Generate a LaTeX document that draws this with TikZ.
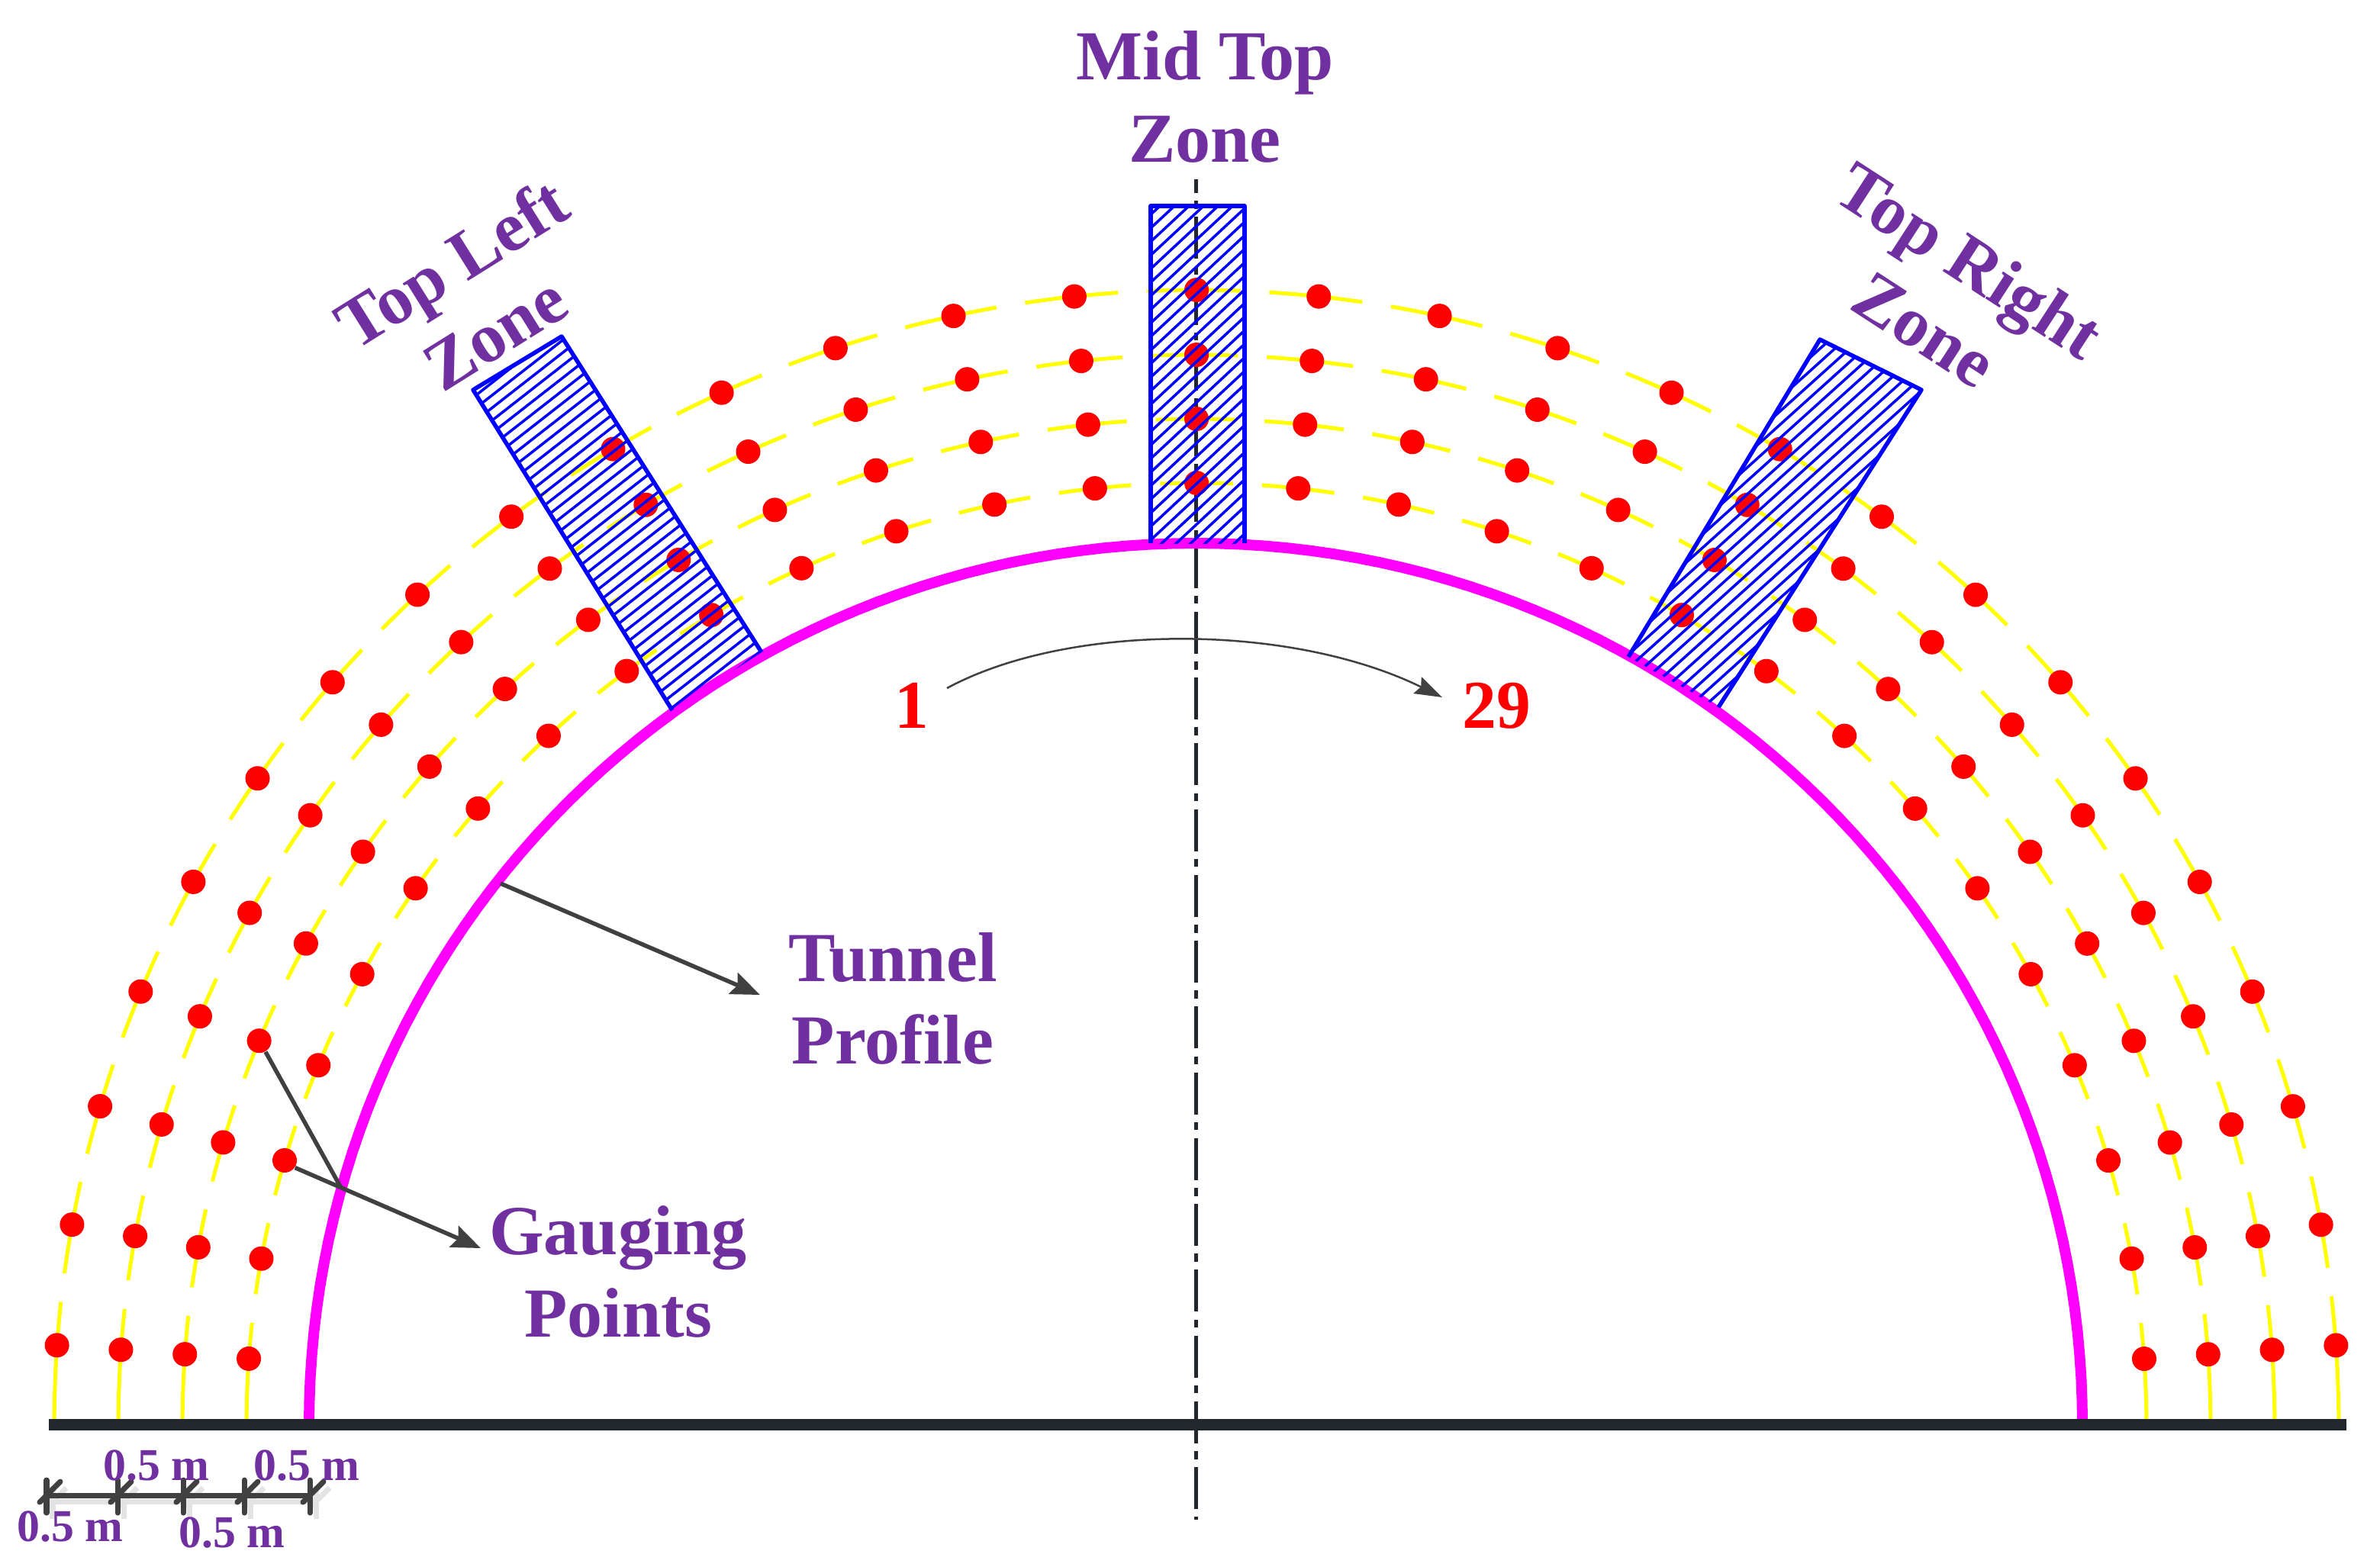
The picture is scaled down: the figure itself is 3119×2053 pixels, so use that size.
\documentclass[tikz,border=0pt]{standalone}
\usepackage{fontspec}
\setmainfont{Liberation Serif}
\usetikzlibrary{arrows.meta}
\definecolor{zonepurple}{HTML}{7030A0}
\definecolor{arrowgrey}{HTML}{404040}
\definecolor{baseblack}{HTML}{22272E}
\definecolor{ringyellow}{HTML}{FFFF00}
\definecolor{tunnelpink}{HTML}{FF00FF}
\definecolor{dotred}{HTML}{FF0000}
\definecolor{zoneblue}{HTML}{0000FF}
\tikzset{
  x=0.01cm,y=-0.01cm,
  gaugedot/.style={circle,fill=dotred,draw=none,inner sep=0pt,minimum size=0.32cm},
  ringline/.style={ringyellow,line width=0.05cm},
  tunnelline/.style={tunnelpink,line width=0.14cm,line join=round},
  zonebox/.style={zoneblue,line width=0.055cm,line join=round},
  hatchline/.style={zoneblue,line width=0.035cm},
  pointer/.style={arrowgrey,line width=0.055cm,-{Stealth[length=0.38cm,width=0.30cm,inset=0.06cm]}},
  plainpointer/.style={arrowgrey,line width=0.055cm},
  zonelabel/.style={text=zonepurple,font=\fontsize{26.2}{30.5}\selectfont\bfseries,align=center,inner sep=0pt},
  dimlabel/.style={text=zonepurple,font=\fontsize{17}{20}\selectfont\bfseries,inner sep=0pt},
  numlabel/.style={text=dotred,font=\fontsize{25.5}{30}\selectfont\bfseries,inner sep=0pt},
  dimbar/.style={arrowgrey,line width=0.07cm,line cap=round},
  dimshadow/.style={black!11,line width=0.07cm},
}
\begin{document}
\begin{tikzpicture}
\useasboundingbox (0,0) rectangle (3119,2053);
% rings with gaps
\foreach \rx/\ry/\k in {1245/1234/1,1329/1318/2,1413/1402/3,1497/1487/4}{
  \pgfmathsetmacro\gapw{38/\rx*57.3}
  \foreach \i in {0,...,27}{
    \pgfmathsetmacro\ta{4+\i*6.143}
    \pgfmathsetmacro\tb{\ta+2.2}
    \pgfmathsetmacro\tc{\tb+\gapw}
    \pgfmathsetmacro\td{\ta+6.143}
    \draw[ringline] plot[domain=\ta:\tb,samples=4] ({1568-\rx*cos(\x)},{1867-\ry*sin(\x)});
    \draw[ringline] plot[domain=\tc:\td,samples=4] ({1568-\rx*cos(\x)},{1867-\ry*sin(\x)});
  }
  \draw[ringline] plot[domain=0:4,samples=4] ({1568-\rx*cos(\x)},{1867-\ry*sin(\x)});
  \draw[ringline] plot[domain=176:180,samples=4] ({1568-\rx*cos(\x)},{1867-\ry*sin(\x)});
}
% centre line
\coordinate (ctop) at (1567.5,235);
\coordinate (cbot) at (1567.5,1992);
\draw[baseblack,line width=0.05cm,dash pattern=on 0.55cm off 0.104cm on 0.104cm off 0.104cm,dash phase=0.37cm] (ctop) -- (cbot);
% gauging points
\foreach \rx/\ry/\k in {1245/1234/1,1329/1318/2,1413/1402/3,1497/1487/4}{
  \foreach \i in {0,...,28}{
    \pgfmathsetmacro\ta{4+\i*6.143}
    \node[gaugedot] (d-\k-\i) at ({1568-\rx*cos(\ta)},{1867-\ry*sin(\ta)}) {};
  }
}
% tunnel and base
\draw[tunnelline] plot[domain=0:180,samples=121] ({1567-1162*cos(\x)},{1867-1155*sin(\x)});
\coordinate (bl) at (64,1867);
\coordinate (br) at (3075,1867);
\draw[baseblack,line width=0.15cm] (bl) -- (br);
% zones
\begin{scope}
\clip (1508,270) rectangle (1631,712);
\foreach \s in {-30,...,30}{
  \draw[hatchline,shift={(1570,490)},rotate=43] (-500,{\s*13}) -- (500,{\s*13});
}
\end{scope}
\draw[zonebox] (1508,712) -- (1508,270) -- (1631,270) -- (1631,712);
\begin{scope}
\clip (620,511) -- (736,441) -- (998,855) -- (881,931) -- cycle;
\foreach \s in {-30,...,30}{
  \draw[hatchline,shift={(810,686)},rotate=38] (-500,{\s*13}) -- (500,{\s*13});
}
\end{scope}
\draw[zonebox] (881,931) -- (620,511) -- (736,441) -- (998,855);
\begin{scope}
\clip (2385,445) -- (2518,511) -- (2252,927) -- (2134,861) -- cycle;
\foreach \s in {-30,...,30}{
  \draw[hatchline,shift={(2325,686)},rotate=42] (-500,{\s*13}) -- (500,{\s*13});
}
\end{scope}
\draw[zonebox] (2134,861) -- (2385,445) -- (2518,511) -- (2252,927);
% zone labels
\node[zonelabel] (midlabel) at (1579,127) {Mid Top\\Zone};
\node[zonelabel,rotate=32] (leftlabel) at (620,390) {Top Left\\Zone};
\node[zonelabel,rotate=-33] (rightlabel) at (2552,386) {Top Right\\Zone};
\node[zonelabel] (tunnellabel) at (1170,1309) {Tunnel\\Profile};
\node[zonelabel] (gauginglabel) at (810,1667) {Gauging\\Points};
% numbers and sweep
\node[numlabel] (n1) at (1195,925) {1};
\node[numlabel] (n29) at (1961,925) {29};
\coordinate (sweepa) at (1241,902);
\coordinate (sweepb) at (1890,914);
\draw[arrowgrey,line width=0.025cm,-{Stealth[length=0.36cm,width=0.24cm,inset=0.05cm]}] (sweepa) .. controls (1400,816) and (1690,816) .. (sweepb);
% pointers
\coordinate (tunnelpt) at (656,1158);
\coordinate (tunneltip) at (996,1304);
\draw[pointer] (tunnelpt) -- (tunneltip);
\coordinate (gaugetip) at (630,1636);
\coordinate (gaugemid) at (447,1557);
\draw[pointer] (d-1-2.-35) -- (gaugetip);
\draw[plainpointer] (d-2-3.-60) -- (gaugemid);
% dimension bars
\foreach \n/\xx in {0/61,1/154,2/240,3/320,4/406}{
  \coordinate (t\n) at (\xx,1960);
}
\draw[dimshadow] ([shift={(8,8)}]t0) -- ([shift={(8,8)}]t4);
\foreach \n in {0,...,4}{
  \draw[dimshadow] ([shift={(8,-12)}]t\n) -- ([shift={(8,31)}]t\n);
  \draw[dimshadow] ([shift={(-1,17)}]t\n) -- ([shift={(26,-10)}]t\n);
}
\draw[dimbar] (t0) -- (t4);
\foreach \n in {0,...,4}{
  \draw[dimbar] ([shift={(0,-20)}]t\n) -- ([shift={(0,23)}]t\n);
  \draw[dimbar] ([shift={(-9,9)}]t\n) -- ([shift={(18,-18)}]t\n);
}
\node[dimlabel] (da) at (205,1921) {0.5 m};
\node[dimlabel] (db) at (402,1921) {0.5 m};
\node[dimlabel] (dc) at (92,2001) {0.5 m};
\node[dimlabel] (dd) at (304,2009) {0.5 m};
\end{tikzpicture}
\end{document}
